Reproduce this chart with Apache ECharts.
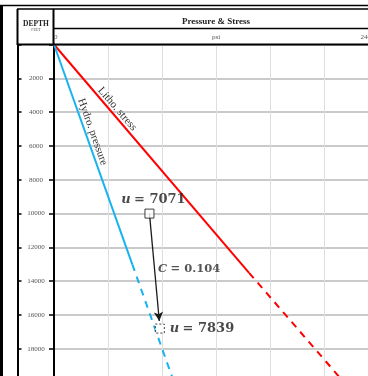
<!DOCTYPE html>
<html>
<head>
<meta charset="utf-8">
<script src="https://cdn.jsdelivr.net/npm/echarts@6/dist/echarts.min.js"></script>
<style>
html,body{margin:0;padding:0;background:#fff;}
#chart{width:368px;height:376px;}
</style>
</head>
<body>
<div id="chart"></div>
<script>
// 压力 (psi) / 深度 (ft)
var lithoSolid = [[0, 0], [14450, 13500]];
var lithoDash = [[14450, 13500], [21500, 20000]];
var hydroSolid = [[0, 0], [5800, 13000]];
var hydroDash = [[5800, 13000], [8900, 20000]];
var startPt = [7071, 10000];
var endPt = [7839, 16800];
var arrowEnd = [7800, 16350];
var cPt = [7414, 13300];
var startLabel = '7071', endLabel = '7839', cLabel = '0.104';
var lithoLabelPt = [4350, 4050], hydroLabelPt = [2360, 5300];

var RED = '#ff0000', BLUE = '#17b3ef';
var serif = '"Liberation Serif", "DejaVu Serif", serif';
var mathFont = '"DejaVu Serif", serif';

var myChart = echarts.init(document.getElementById('chart'));

var richU = {
	i: { fontFamily: mathFont, fontStyle: 'italic', fontWeight: 'bold', fontSize: 13, color: '#1a1a1a' },
	b: { fontFamily: mathFont, fontWeight: 'bold', fontSize: 13, color: '#1a1a1a' }
};

var option = {
	animation: false,
	grid: { left: 54, top: 44.5, width: 324, height: 338.2, outerBoundsMode: 'none', containLabel: false },
	xAxis: {
		type: 'value', position: 'top', min: 0, max: 24000, interval: 4000,
		axisLine: { show: false },
		axisTick: { show: false },
		splitLine: { lineStyle: { color: '#dedede', width: 1 } },
		axisLabel: {
			margin: 4, fontSize: 7, fontFamily: serif, color: '#555',
			alignMinLabel: 'left', alignMaxLabel: 'right',
			formatter: function (v) { return (v === 0 || v === 24000) ? String(v) : ''; }
		}
	},
	yAxis: [{
		type: 'value', inverse: true, min: 0, max: 20000, interval: 2000, position: 'left',
		axisLine: { show: true, lineStyle: { color: '#000', width: 2 } },
		axisTick: { show: true, length: 5, lineStyle: { color: '#000', width: 1.5 } },
		splitLine: { show: true, lineStyle: { color: '#b8b8b8', width: 1.5 } },
		axisLabel: {
			margin: 18, align: 'center', fontSize: 7, fontFamily: serif, color: '#555',
			formatter: function (v) { return (v === 0 || v === 20000) ? '' : String(v); }
		}
	}, {
		type: 'value', inverse: true, min: 0, max: 20000, interval: 2000, position: 'left', offset: 36.5,
		axisLine: { show: true, lineStyle: { color: '#000', width: 2 } },
		axisTick: { show: true, inside: true, length: 4, lineStyle: { color: '#000', width: 1.5 } },
		splitLine: { show: false },
		axisLabel: { show: false }
	}],
	series: [
		{ type: 'line', data: lithoSolid, symbol: 'none', lineStyle: { color: RED, width: 2 } },
		{ type: 'line', data: lithoDash, symbol: 'none', lineStyle: { color: RED, width: 2, type: [7, 6] } },
		{ type: 'line', data: hydroSolid, symbol: 'none', lineStyle: { color: BLUE, width: 2 } },
		{ type: 'line', data: hydroDash, symbol: 'none', lineStyle: { color: BLUE, width: 2, type: [7, 6] } },
		{
			type: 'scatter', symbol: 'rect', symbolSize: 9, z: 5,
			markLine: {
				silent: true, symbol: ['none', 'arrow'], symbolSize: [7, 9],
				lineStyle: { color: '#1a1a1a', width: 1.3, type: 'solid' },
				label: { show: false },
				data: [[{ coord: startPt }, { coord: arrowEnd }]]
			},
			data: [{
				value: startPt,
				itemStyle: { color: '#fff', borderColor: '#111', borderWidth: 1 },
				label: { show: true, position: 'top', distance: 2, offset: [4, 0], formatter: '{i|u} {b|= ' + startLabel + '}', rich: richU }
			}, {
				value: endPt,
				itemStyle: { color: '#fff', borderColor: '#111', borderWidth: 1, borderType: [2, 2] },
				label: { show: true, position: 'right', distance: 5, formatter: '{i|u} {b|= ' + endLabel + '}', rich: richU }
			}]
		},
		{
			type: 'scatter', symbolSize: 0, data: [cPt], z: 6,
			label: {
				show: true, position: 'right', distance: 4,
				formatter: '{i|C} {b|= ' + cLabel + '}',
				rich: {
					i: { fontFamily: mathFont, fontStyle: 'italic', fontWeight: 'bold', fontSize: 11.5, color: '#2a2a2a' },
					b: { fontFamily: mathFont, fontWeight: 'bold', fontSize: 11.5, color: '#2a2a2a' }
				}
			}
		}
	]
};
myChart.setOption(option);

// 表头与沿线文字
function lineText(text, pt, slope, off) {
	var p = myChart.convertToPixel({ gridIndex: 0 }, pt);
	var ang = Math.atan2(1, slope);
	var nx = 1 / Math.sqrt(1 + slope * slope), ny = -slope / Math.sqrt(1 + slope * slope);
	return {
		type: 'text', x: p[0] + nx * off, y: p[1] + ny * off, rotation: -ang,
		style: { text: text, font: '11px ' + serif, fill: '#333', align: 'center', verticalAlign: 'middle' }, z: 10
	};
}
var a0 = myChart.convertToPixel({ gridIndex: 0 }, [0, 0]);
var aL = myChart.convertToPixel({ gridIndex: 0 }, lithoDash[1]);
var aH = myChart.convertToPixel({ gridIndex: 0 }, hydroDash[1]);
var slopeL = (aL[0] - a0[0]) / (aL[1] - a0[1]);
var slopeH = (aH[0] - a0[0]) / (aH[1] - a0[1]);
var blk = { stroke: '#000', lineWidth: 1.5 };

myChart.setOption({
	graphic: [
		{ type: 'rect', shape: { x: 0, y: 5, width: 3, height: 371 }, style: { fill: '#000' } },
		{ type: 'line', shape: { x1: 0, y1: 5.5, x2: 368, y2: 5.5 }, style: blk },
		{ type: 'line', shape: { x1: 17, y1: 9, x2: 368, y2: 9 }, style: blk },
		{ type: 'line', shape: { x1: 17.5, y1: 9, x2: 17.5, y2: 45 }, style: { stroke: '#000', lineWidth: 2 } },
		{ type: 'line', shape: { x1: 53.5, y1: 9, x2: 53.5, y2: 45 }, style: { stroke: '#000', lineWidth: 2 } },
		{ type: 'line', shape: { x1: 53.5, y1: 28.5, x2: 368, y2: 28.5 }, style: blk },
		{ type: 'line', shape: { x1: 17, y1: 44.5, x2: 368, y2: 44.5 }, style: { stroke: '#000', lineWidth: 2 }, z: 10 },
		{ type: 'text', x: 36, y: 24, style: { text: 'DEPTH', font: 'bold 7.5px ' + serif, fill: '#222', align: 'center', verticalAlign: 'middle' } },
		{ type: 'text', x: 36, y: 29.5, style: { text: 'FEET', font: '4px ' + serif, fill: '#555', align: 'center', verticalAlign: 'middle' } },
		{ type: 'text', x: 216, y: 21.5, style: { text: 'Pressure & Stress', font: 'bold 9px ' + serif, fill: '#222', align: 'center', verticalAlign: 'middle' } },
		{ type: 'text', x: 216, y: 37, style: { text: 'psi', font: '7px ' + serif, fill: '#555', align: 'center', verticalAlign: 'middle' } },
		lineText('Litho. stress', lithoLabelPt, slopeL, 6),
		lineText('Hydro. pressure', hydroLabelPt, slopeH, 7)
	]
});
</script>
</body>
</html>
